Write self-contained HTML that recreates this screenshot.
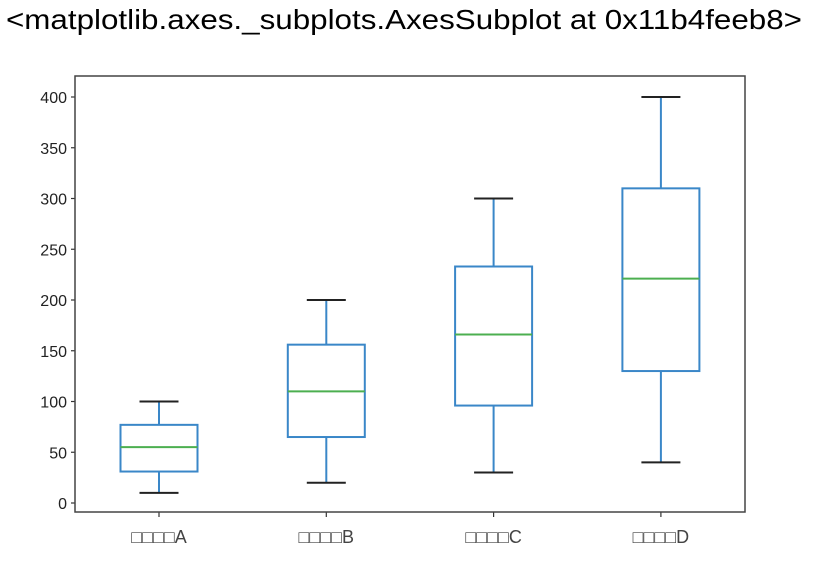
<!DOCTYPE html>
<html><head><meta charset="utf-8"><style>
body{margin:0;background:#fff;width:824px;height:562px;overflow:hidden;font-family:"Liberation Sans","Noto Sans CJK JP",sans-serif}
svg{position:absolute;left:0;top:0}
</style></head><body>
<svg id="c" width="824" height="562">
<text x="6" y="29" font-size="28" fill="#000" textLength="796" lengthAdjust="spacingAndGlyphs">&lt;matplotlib.axes._subplots.AxesSubplot at 0x11b4feeb8&gt;</text>
</svg>
<script>
const categories=["□□□□A","□□□□B","□□□□C","□□□□D"];
const mins=[10,20,30,40];
const q1s=[31,65,96,130];
const medians=[55,110,166,221];
const q3s=[77,156,233,310];
const maxs=[100,200,300,400];
const yTicks=[0,50,100,150,200,250,300,350,400];
const L=75,R=745,T=76,B=512;
const y=v=>503-v*406/400;
const x=i=>159+i*167.3;
const svg=document.getElementById('c');
const NS='http://www.w3.org/2000/svg';
function mk(tag,a){const e=document.createElementNS(NS,tag);for(const k in a)e.setAttribute(k,a[k]);svg.appendChild(e);return e;}
yTicks.forEach(v=>{
 const tk=mk('line',{x1:L-4,x2:L,y1:y(v),y2:y(v),stroke:'#333','stroke-width':1.2});
 
 
 const tx=mk('text',{x:L-8,y:y(v)+6,'text-anchor':'end','font-size':'16',fill:'#222'});
 tx.textContent=v;
 
 
});
categories.forEach((c,i)=>{
 const cx=x(i),hw=38.5,cw=19.5;
 const g=document.createElementNS(NS,'g');svg.appendChild(g);
 
 
 const add=(tag,a)=>{const e=document.createElementNS(NS,tag);for(const k in a)e.setAttribute(k,a[k]);g.appendChild(e);return e;};
 add('line',{x1:cx,x2:cx,y1:y(maxs[i]),y2:y(q3s[i]),stroke:'#3a87c8','stroke-width':2});
 add('line',{x1:cx,x2:cx,y1:y(q1s[i]),y2:y(mins[i]),stroke:'#3a87c8','stroke-width':2});
 add('line',{x1:cx-cw,x2:cx+cw,y1:y(maxs[i]),y2:y(maxs[i]),stroke:'#222','stroke-width':2});
 add('line',{x1:cx-cw,x2:cx+cw,y1:y(mins[i]),y2:y(mins[i]),stroke:'#222','stroke-width':2});
 add('rect',{x:cx-hw,y:y(q3s[i]),width:2*hw,height:y(q1s[i])-y(q3s[i]),fill:'none',stroke:'#3a87c8','stroke-width':2});
 add('line',{x1:cx-hw,x2:cx+hw,y1:y(medians[i]),y2:y(medians[i]),stroke:'#4caf50','stroke-width':2});
 const tk=mk('line',{x1:cx,x2:cx,y1:B,y2:B+5,stroke:'#333','stroke-width':1.2});
 
 
 const tx=mk('text',{x:cx,y:B+31,'text-anchor':'middle','font-size':'18',fill:'#444'});
 tx.textContent=c;
 
 
});
const f=mk('rect',{x:L,y:T,width:R-L,height:B-T,fill:'none',stroke:'#444','stroke-width':1.5});


</script>
</body></html>
